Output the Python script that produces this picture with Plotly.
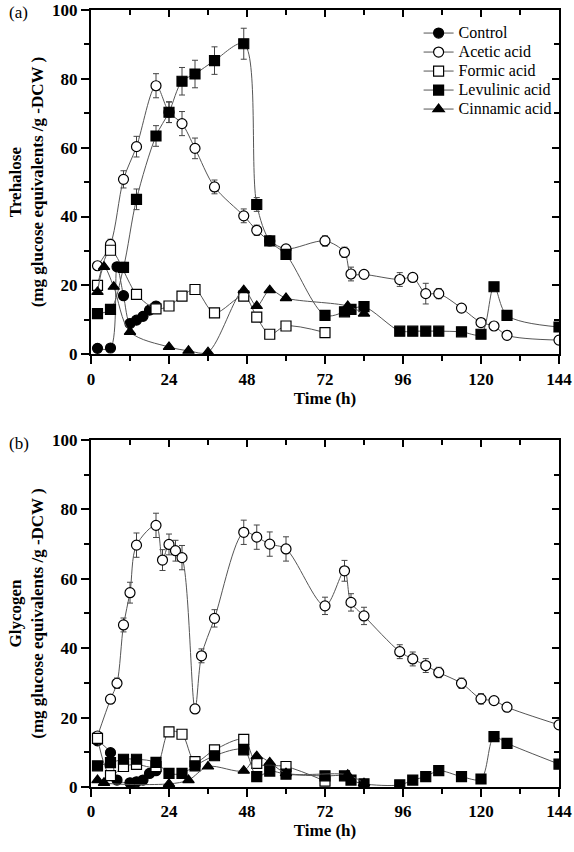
import plotly.graph_objects as go

# ---------------- data: (a) Trehalose ----------------
t_ctrl_a = [2, 6, 8, 10, 12, 14, 16, 18, 20]
ctrl_a = [1.7, 1.8, 25.4, 17.0, 8.9, 9.9, 11.0, 12.8, 14.0]

t_acet_a = [2, 6, 10, 14, 20, 24, 28, 32, 38, 47, 51, 55, 60, 72, 78, 80, 84,
            95, 99, 103, 107, 114, 120, 124, 128, 144]
acet_a = [25.7, 31.9, 50.8, 60.3, 78.0, 70.3, 67.0, 59.8, 48.6, 40.2, 36.0, 32.9,
          30.6, 32.9, 29.6, 23.3, 23.2, 21.7, 22.3, 17.6, 17.6, 13.4, 9.2, 8.2, 5.5, 4.1]
acet_a_err = [1.0, 1.5, 2.5, 3.0, 3.5, 3.0, 3.5, 3.0, 2.0, 2.0, 1.5, 1.0, 1.0, 1.5,
              1.5, 2.0, 1.0, 2.0, 1.0, 3.0, 1.5, 1.0, 1.0, 0.8, 1.0, 0.5]

t_form_a = [2, 6, 14, 20, 24, 28, 32, 38, 47, 51, 55, 60, 72]
form_a = [20.0, 30.2, 17.4, 13.2, 14.0, 16.9, 18.8, 12.0, 16.9, 10.8, 5.8, 8.2, 6.3]

t_levu_a = [2, 6, 10, 14, 20, 24, 28, 32, 38, 47, 51, 55, 60, 72, 78, 80, 84,
            95, 99, 103, 107, 114, 120, 124, 128, 144]
levu_a = [11.8, 13.0, 25.2, 45.0, 63.4, 70.3, 79.3, 81.4, 85.3, 90.2, 43.5, 32.9,
          29.0, 11.3, 12.3, 13.0, 13.8, 6.7, 6.7, 6.7, 6.7, 6.5, 5.8, 19.6, 11.3, 7.9]
levu_a_err = [1.0, 1.0, 1.5, 3.0, 3.0, 3.0, 4.0, 4.0, 4.0, 4.5, 2.0, 1.0, 1.0, 0.5,
              0.5, 0.5, 0.5, 0.3, 0.3, 0.3, 0.3, 0.3, 0.3, 0.5, 0.5, 0.5]

t_cinn_a = [2, 4, 7, 12, 24, 30, 36, 47, 51, 55, 60, 79, 84]
cinn_a = [18.1, 25.4, 19.6, 6.5, 2.1, 1.0, 0.6, 18.6, 14.0, 18.6, 16.3, 14.0, 11.8]

# ---------------- data: (b) Glycogen ----------------
t_ctrl_b = [2, 6, 8, 12, 14, 16, 18, 20]
ctrl_b = [13.3, 9.9, 2.0, 1.2, 1.5, 2.0, 3.9, 4.7]

t_acet_b = [2, 6, 8, 10, 12, 14, 20, 22, 24, 26, 28, 32, 34, 38, 47, 51, 55, 60,
            72, 78, 80, 84, 95, 99, 103, 107, 114, 120, 124, 128, 144]
acet_b = [14.7, 25.3, 29.9, 46.7, 56.0, 69.7, 75.4, 65.4, 69.9, 68.1, 66.1, 22.5,
          37.8, 48.6, 73.4, 72.0, 70.0, 68.6, 52.2, 62.3, 53.2, 49.3, 39.0, 36.9,
          35.0, 33.0, 29.9, 25.4, 24.9, 23.0, 17.9]
acet_b_err = [1.0, 1.0, 1.5, 2.0, 3.0, 3.5, 3.5, 3.0, 3.0, 3.0, 3.5, 0.5, 2.0, 2.5,
              3.5, 3.5, 3.5, 3.5, 2.5, 3.0, 2.5, 2.5, 2.0, 2.0, 2.0, 1.5, 1.5, 1.5,
              1.0, 1.0, 1.0]

t_form_b = [2, 6, 10, 14, 20, 24, 28, 32, 38, 47, 51, 60, 72]
form_b = [14.0, 3.3, 5.9, 6.5, 5.9, 15.9, 15.2, 7.3, 10.7, 13.7, 6.8, 5.9, 1.7]

t_levu_b = [2, 6, 10, 14, 20, 24, 28, 32, 38, 47, 51, 55, 60, 72, 78, 80, 84,
            95, 99, 103, 107, 114, 120, 124, 128, 144]
levu_b = [6.1, 7.0, 8.0, 8.0, 7.1, 3.9, 3.9, 6.1, 9.0, 10.7, 3.0, 4.6, 3.7, 3.2,
          3.2, 2.0, 0.9, 0.6, 2.0, 3.0, 4.7, 3.0, 2.3, 14.5, 12.6, 6.6]

t_cinn_b = [2, 4, 24, 30, 36, 47, 51, 55, 60, 79, 84]
cinn_b = [2.0, 1.2, 0.9, 2.0, 5.9, 4.7, 8.9, 7.1, 4.0, 3.5, 1.1]

x_ticks = [0, 24, 48, 72, 96, 120, 144]
x_minor = [12, 36, 60, 84, 108, 132]
y_ticks = [0, 20, 40, 60, 80, 100]
y_minor = [10, 30, 50, 70, 90]

names = ["Control", "Acetic acid", "Formic acid", "Levulinic acid", "Cinnamic acid"]
FONT = "Liberation Serif"
LINEC = "#555555"

styles = {
    "Control": dict(symbol="circle", color="black"),
    "Acetic acid": dict(symbol="circle", color="white"),
    "Formic acid": dict(symbol="square", color="white"),
    "Levulinic acid": dict(symbol="square", color="black"),
    "Cinnamic acid": dict(symbol="triangle-up", color="black"),
}

fig = go.Figure()


def add(name, t, y, xa, ya, err=None, show=False):
    st = styles[name]
    kw = {}
    if err is not None:
        kw["error_y"] = dict(type="data", array=err, visible=True, color="#444444",
                             thickness=1, width=3)
    fig.add_trace(go.Scatter(
        x=t, y=y, name="<span style='font-size:16px'>" + name + "</span>",
        mode="lines+markers", xaxis=xa, yaxis=ya,
        line=dict(shape="spline", smoothing=0.9, color=LINEC, width=1),
        marker=dict(symbol=st["symbol"], color=st["color"], size=10,
                    line=dict(color="black", width=1.2)),
        showlegend=show, legendgroup=name, **kw))


# top panel (a)
add("Control", t_ctrl_a, ctrl_a, "x", "y", show=True)
add("Acetic acid", t_acet_a, acet_a, "x", "y", acet_a_err, show=True)
add("Formic acid", t_form_a, form_a, "x", "y", show=True)
add("Levulinic acid", t_levu_a, levu_a, "x", "y", levu_a_err, show=True)
add("Cinnamic acid", t_cinn_a, cinn_a, "x", "y", show=True)
# bottom panel (b)
add("Control", t_ctrl_b, ctrl_b, "x2", "y2")
add("Acetic acid", t_acet_b, acet_b, "x2", "y2", acet_b_err)
add("Formic acid", t_form_b, form_b, "x2", "y2")
add("Levulinic acid", t_levu_b, levu_b, "x2", "y2")
add("Cinnamic acid", t_cinn_b, cinn_b, "x2", "y2")

tickfont = dict(family=FONT, size=17, color="black", weight="bold")
titlefont = dict(family=FONT, size=17, color="black", weight="bold")

dom_top = [0.557, 1.0]
dom_bot = [0.0, 0.4466]

xcommon = dict(range=[0, 144], tickvals=x_ticks,
               ticks="outside", ticklen=8, tickwidth=2, tickcolor="black",
               showline=True, linewidth=2, linecolor="black", showgrid=False,
               zeroline=False, tickfont=tickfont, automargin=False,
               minor=dict(tickvals=x_minor, ticks="outside",
                          ticklen=5, tickwidth=2, tickcolor="black", showgrid=False))
ycommon = dict(range=[0, 100], tickvals=y_ticks,
               ticks="outside", ticklen=8, tickwidth=2, tickcolor="black",
               showline=True, linewidth=2, linecolor="black", showgrid=False,
               zeroline=False, tickfont=tickfont, automargin=False,
               minor=dict(tickvals=y_minor, ticks="outside",
                          ticklen=5, tickwidth=2, tickcolor="black", showgrid=False))
xmirror = dict(range=[0, 144], tickvals=x_ticks,
               ticks="inside", ticklen=7, tickwidth=2, tickcolor="black",
               showticklabels=False, showline=True, linewidth=2, linecolor="black",
               showgrid=False, zeroline=False, side="top", automargin=False,
               minor=dict(tickvals=x_minor, ticks="inside",
                          ticklen=5, tickwidth=2, tickcolor="black", showgrid=False))
ymirror = dict(range=[0, 100], tickvals=y_ticks,
               ticks="inside", ticklen=7, tickwidth=2, tickcolor="black",
               showticklabels=False, showline=True, linewidth=2, linecolor="black",
               showgrid=False, zeroline=False, side="right", automargin=False,
               minor=dict(tickvals=y_minor, ticks="inside",
                          ticklen=5, tickwidth=2, tickcolor="black", showgrid=False))

fig.update_layout(
    width=574, height=852,
    margin=dict(l=91, r=15, t=10, b=65),
    paper_bgcolor="white", plot_bgcolor="white",
    xaxis=dict(xcommon, domain=[0, 1], anchor="y",
               title=dict(text="Time (h)", font=titlefont, standoff=2)),
    yaxis=dict(ycommon, domain=dom_top, anchor="x",
               title=dict(text="Trehalose<br>(mg glucose equivalents /g -DCW )",
                          font=titlefont, standoff=4)),
    xaxis2=dict(xcommon, domain=[0, 1], anchor="y2",
                title=dict(text="Time (h)", font=titlefont, standoff=2)),
    yaxis2=dict(ycommon, domain=dom_bot, anchor="x2",
                title=dict(text="Glycogen<br>(mg glucose equivalents /g -DCW )",
                           font=titlefont, standoff=4)),
    xaxis3=dict(xmirror, overlaying="x", anchor="y"),
    yaxis3=dict(ymirror, overlaying="y", anchor="x"),
    xaxis4=dict(xmirror, overlaying="x2", anchor="y2"),
    yaxis4=dict(ymirror, overlaying="y2", anchor="x2"),
    legend=dict(x=0.70, y=0.989, xanchor="left", yanchor="top",
                bgcolor="rgba(0,0,0,0)", tracegroupgap=0,
                font=dict(family=FONT, size=12, color="black"),
                itemwidth=30),
    annotations=[
        dict(text="(a)", x=-0.18, y=1.012, xref="paper", yref="paper",
             xanchor="left", yanchor="top", showarrow=False,
             font=dict(family=FONT, size=17, color="black")),
        dict(text="(b)", x=-0.18, y=dom_bot[1] + 0.01, xref="paper", yref="paper",
             xanchor="left", yanchor="top", showarrow=False,
             font=dict(family=FONT, size=17, color="black")),
    ],
)

# dummy invisible traces so overlay axes render
fig.add_trace(go.Scatter(x=[None], y=[None], xaxis="x3", yaxis="y3", showlegend=False))
fig.add_trace(go.Scatter(x=[None], y=[None], xaxis="x4", yaxis="y4", showlegend=False))

fig.write_html("out.html", config={"displayModeBar": False},
               post_script="document.body.style.margin='0';document.body.style.overflow='hidden';")
